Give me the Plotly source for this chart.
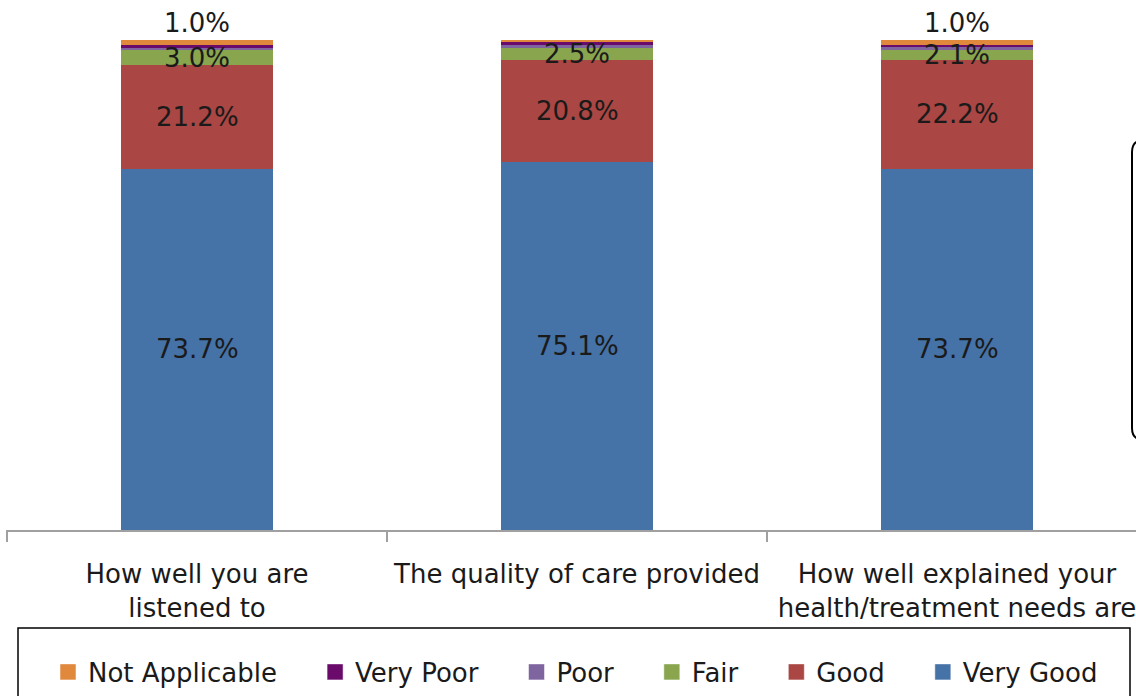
import plotly.graph_objects as go

categories = ["How well you are<br>listened to", "The quality of care provided",
              "How well explained your<br>health/treatment needs are"]

series_names = ["Very Good", "Good", "Fair", "Poor", "Very Poor", "Not Applicable"]
very_good = [73.7, 75.1, 73.7]
good = [21.2, 20.8, 22.2]
fair = [3.0, 2.5, 2.1]
poor = [0.5, 0.7, 0.5]
very_poor = [0.6, 0.4, 0.5]
not_applicable = [1.0, 0.5, 1.0]

# which data labels are shown (as in the reference)
show_very_good = [True, True, True]
show_good = [True, True, True]
show_fair = [True, True, True]
show_poor = [False, False, False]
show_very_poor = [False, False, False]
show_not_applicable = [True, False, True]

colors = ["#4572A7", "#AA4643", "#89A54E", "#7F65A0", "#6A0A6A", "#E0883C"]

series = [very_good, good, fair, poor, very_poor, not_applicable]
shows = [show_very_good, show_good, show_fair, show_poor, show_very_poor, show_not_applicable]

FONT = "DejaVu Sans"
FS = 26
TXT = "#1a1a1a"
W, H = 1136, 696
ML, MR = 6, 0
MT = 40
MB = H - 530
PW = W - ML - MR
PH = H - MT - MB
CAT_W = 380.0
BOUNDARY0 = 7  # pixel position of the first category boundary
x0_range = -0.5 - (BOUNDARY0 - ML) / CAT_W

fig = go.Figure()
for name, vals, col in zip(series_names, series, colors):
    fig.add_trace(go.Bar(
        x=categories, y=vals, name=name,
        marker=dict(color=col, line=dict(width=0)),
        width=0.4, showlegend=False,
    ))

# legend entries with larger square swatches
pad = "\u00a0\u00a0\u00a0\u00a0"
for name, col in zip(series_names, colors):
    fig.add_trace(go.Scatter(
        x=[categories[0]], y=[None], mode="markers", name=name + pad,
        marker=dict(symbol="square", size=16, color=col,
                    line=dict(width=1, color="rgba(255,255,255,0.5)")),
        showlegend=True, hoverinfo="skip",
    ))

# data labels
base = [0.0, 0.0, 0.0]
for k, (vals, show) in enumerate(zip(series, shows)):
    for i, v in enumerate(vals):
        if show[i]:
            if series_names[k] == "Not Applicable":
                fig.add_annotation(x=categories[i], y=base[i] + v, text=f"{v:.1f}%",
                                   yanchor="bottom", yshift=0, showarrow=False,
                                   font=dict(family=FONT, size=FS, color=TXT))
            else:
                fig.add_annotation(x=categories[i], y=base[i] + v / 2, text=f"{v:.1f}%",
                                   showarrow=False,
                                   font=dict(family=FONT, size=FS, color=TXT))
        base[i] += v


def px(xp):
    return (xp - ML) / PW


def py(yp):
    return (H - MB - yp) / PH


# cut-off rounded box at the right edge
path = (f"M {px(1150)},{py(140)} L {px(1144)},{py(140)} "
        f"Q {px(1132)},{py(140)} {px(1132)},{py(152)} "
        f"L {px(1132)},{py(428)} Q {px(1132)},{py(440)} {px(1144)},{py(440)} "
        f"L {px(1150)},{py(440)}")
fig.add_shape(type="path", path=path, xref="paper", yref="paper",
              line=dict(color="#000000", width=2))

# legend frame (cut off at the bottom)
fig.add_shape(type="rect", xref="paper", yref="paper",
              x0=px(18), x1=px(1130), y0=py(730), y1=py(628),
              line=dict(color="#000000", width=1.5))

fig.update_layout(
    width=W, height=H,
    margin=dict(l=ML, r=MR, t=MT, b=MB),
    barmode="stack",
    plot_bgcolor="white", paper_bgcolor="white",
    font=dict(family=FONT, size=FS, color=TXT),
    showlegend=True,
    legend=dict(orientation="h", traceorder="reversed",
                x=px(52), xanchor="left", y=py(672), yanchor="middle",
                font=dict(family=FONT, size=FS, color=TXT),
                bgcolor="rgba(0,0,0,0)", itemclick=False, itemdoubleclick=False),
    xaxis=dict(range=[x0_range, x0_range + PW / CAT_W], showline=True, linecolor="#A0A0A0",
               linewidth=1.5, ticks="outside", tickson="boundaries", ticklen=10,
               tickcolor="#A0A0A0", tickwidth=1.5, showgrid=False, zeroline=False,
               ticklabelstandoff=20,
               tickfont=dict(family=FONT, size=FS, color=TXT)),
    yaxis=dict(range=[0, 100], visible=False, showgrid=False),
)

fig.write_html("out.html", config={"displayModeBar": False},
               post_script="document.body.style.margin='0';document.body.style.overflow='hidden';")
